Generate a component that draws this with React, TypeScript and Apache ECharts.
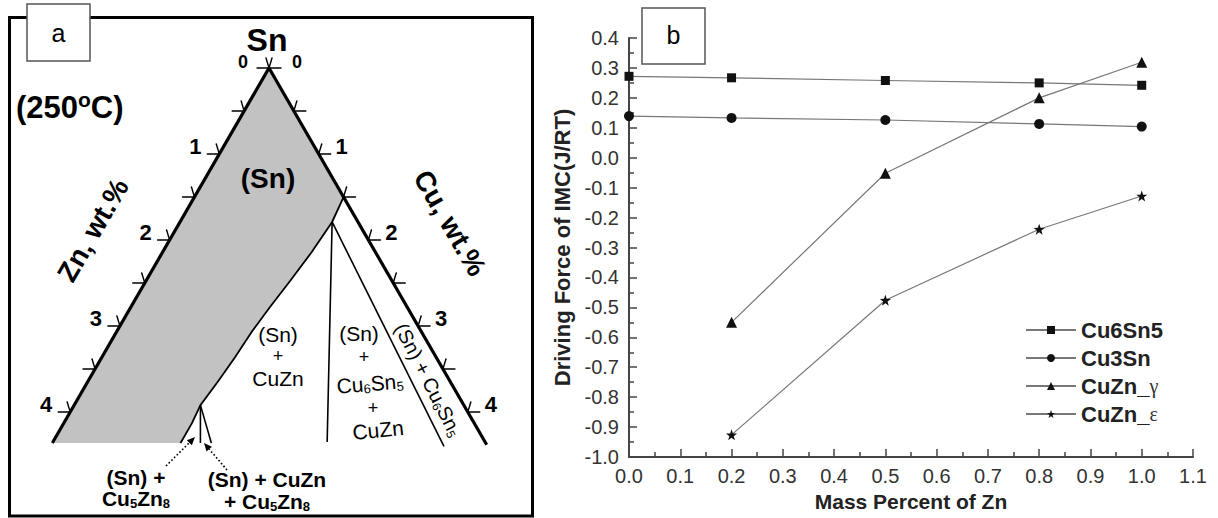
import React, { useEffect, useRef } from "react";
import * as echarts from "echarts";

// ---------------- Panel b : driving force data ----------------
const massPercentZn = [0, 0.2, 0.5, 0.8, 1.0];
const cu6sn5Values = [0.272, 0.267, 0.258, 0.25, 0.242];
const cu3snValues = [0.139, 0.133, 0.126, 0.113, 0.104];
const cuznMassPercent = [0.2, 0.5, 0.8, 1.0];
const cuznGammaValues = [-0.55, -0.052, 0.2, 0.319];
const cuznEpsilonValues = [-0.926, -0.476, -0.239, -0.128];
const seriesNames = ["Cu6Sn5", "Cu3Sn", "CuZn_γ", "CuZn_ε"];

// ---------------- Panel a : Sn-Cu-Zn isothermal section (wt.% [Zn, Cu]) ----------------
const znEdge = [[0, 0], [4.36, 0]];
const cuEdge = [[0, 0], [0, 4.38]];
const snPhaseBoundary = [
  [3.07, 1.29], [2.84, 1.29], [2.65, 1.27], [2.33, 1.31], [2.02, 1.34], [1.71, 1.36],
  [1.38, 1.4], [1.03, 1.45], [0.64, 1.5], [0.26, 1.53], [0, 1.5],
];
const tieLineCuZn = [[0.26, 1.53], [1.59, 2.76]];
const tieLineCu6Sn5 = [[0.26, 1.53], [0.44, 3.96]];
const cu5zn8LineA = [[2.65, 1.27], [2.87, 1.49]];
const cu5zn8LineB = [[2.65, 1.27], [2.76, 1.6]];
const ternaryTicks = [0, 0.5, 1, 1.5, 2, 2.5, 3, 3.5, 4];
const ternaryTickLabels = ["0", "1", "2", "3", "4"];

const FONT = "'Liberation Sans', Arial, Helvetica, sans-serif";
const SERIF = "'Liberation Serif', 'Times New Roman', serif";

function subRich(size: number, weight: string) {
  return {
    m: { fontSize: size, fontWeight: weight, fontFamily: FONT, fill: "#000", verticalAlign: "top", lineHeight: size },
    s: {
      fontSize: Math.round(size * 0.62), fontWeight: weight, fontFamily: FONT, fill: "#000",
      verticalAlign: "top", padding: [Math.round(size * 0.45), 0, 0, 0],
    },
  };
}

function label(text: string, x: number, y: number, size: number, weight = "bold", rotation = 0, rich?: any, z = 10) {
  return {
    type: "text",
    x, y, rotation, z,
    silent: true,
    style: {
      text, fill: "#000", fontSize: size, fontWeight: weight, fontFamily: FONT,
      align: "center", verticalAlign: "middle", rich,
    },
  };
}

function buildOption() {
  const line = (xs: number[], ys: number[]) => xs.map((x, i) => [x, ys[i]]);
  const lineSeries = (name: string, data: number[][], symbol: string, size: number) => ({
    type: "line", name, data, symbol, symbolSize: size, xAxisIndex: 0, yAxisIndex: 0,
    lineStyle: { color: "#777", width: 1.2 },
    itemStyle: { color: "#111" },
    emphasis: { disabled: true },
  });
  const star = "path://M0,-10 L2.35,-3.24 L9.51,-3.09 L3.8,1.24 L5.88,8.09 L0,4 L-5.88,8.09 L-3.8,1.24 L-9.51,-3.09 L-2.35,-3.24 Z";

  const ternary = {
    type: "custom",
    xAxisIndex: 1, yAxisIndex: 1,
    data: [[0, 0]],
    silent: true,
    clip: false,
    renderItem: (_params: any, api: any) => {
      const p = (zc: number[]) => api.coord([zc[1] - zc[0], zc[0] + zc[1]]);
      const seg = (a: number[], b: number[], w: number) => ({
        type: "line", shape: { x1: a[0], y1: a[1], x2: b[0], y2: b[1] },
        style: { stroke: "#000", lineWidth: w, lineCap: "round" },
      });
      const poly = (pts: number[][], w: number) => ({
        type: "polyline", shape: { points: pts.map(p) }, style: { stroke: "#000", lineWidth: w, fill: null },
      });
      const children: any[] = [];
      const region = [znEdge[0], znEdge[1], ...snPhaseBoundary];
      children.push({ type: "polygon", shape: { points: region.map(p) }, style: { fill: "#c2c2c2", stroke: null } });
      children.push(poly(snPhaseBoundary, 1.8));
      children.push(poly(tieLineCuZn, 1.6));
      children.push(poly(tieLineCu6Sn5, 1.6));
      children.push(poly(cu5zn8LineA, 1.6));
      children.push(poly(cu5zn8LineB, 1.6));
      children.push(poly(znEdge, 3.2));
      children.push(poly(cuEdge, 3.2));
      ternaryTicks.forEach((t) => {
        const L = p([t, 0]);
        children.push(seg(L, [L[0] - 12, L[1]], 1.4), seg(L, [L[0] - 3, L[1] - 10], 1.4));
        const R = p([0, t]);
        children.push(seg(R, [R[0] + 12, R[1]], 1.4), seg(R, [R[0] + 3, R[1] - 10], 1.4));
      });
      ternaryTickLabels.forEach((lab, i) => {
        const L = p([i, 0]);
        const R = p([0, i]);
        const size = i === 0 ? 18 : 22;
        const oL = i === 0 ? [-26, -6] : [-24, -8];
        const oR = i === 0 ? [28, -6] : [23, -8];
        children.push({
          type: "text", x: L[0] + oL[0], y: L[1] + oL[1],
          style: { text: lab, fill: "#000", fontSize: size, fontWeight: "bold", fontFamily: FONT, align: "center", verticalAlign: "middle" },
        });
        children.push({
          type: "text", x: R[0] + oR[0], y: R[1] + oR[1],
          style: { text: lab, fill: "#000", fontSize: size, fontWeight: "bold", fontFamily: FONT, align: "center", verticalAlign: "middle" },
        });
      });
      return { type: "group", children };
    },
  };

  const arrowHead = (pts: number[][]) => ({
    type: "polygon", z: 10, silent: true, shape: { points: pts }, style: { fill: "#000" },
  });
  const dotted = (x1: number, y1: number, x2: number, y2: number) => ({
    type: "line", z: 10, silent: true, shape: { x1, y1, x2, y2 },
    style: { stroke: "#000", lineWidth: 1.6, lineDash: [1.6, 2.2] },
  });

  const r21b = subRich(21, "bold");
  const r21 = subRich(21, "normal");
  const r20 = subRich(20, "normal");

  const graphic = [
    { type: "rect", z: 5, silent: true, shape: { x: 9.5, y: 17.5, width: 523, height: 498.5 }, style: { fill: null, stroke: "#000", lineWidth: 3 } },
    { type: "rect", z: 11, silent: true, shape: { x: 27, y: 4, width: 63, height: 57 }, style: { fill: "#fff", stroke: "#555", lineWidth: 1.5 } },
    label("a", 58.5, 33, 25, "normal", 0, undefined, 12),
    { type: "rect", z: 11, silent: true, shape: { x: 642, y: 8, width: 63, height: 56 }, style: { fill: "#fff", stroke: "#555", lineWidth: 1.5 } },
    label("b", 673.5, 35, 25, "normal", 0, undefined, 12),
    label("Sn", 267, 40, 32),
    {
      type: "text", x: 16, y: 106, z: 10, silent: true,
      style: {
        text: "{m|(250}{o|o}{m|C)}", align: "left", verticalAlign: "middle",
        rich: {
          m: { fontSize: 31, fontWeight: "bold", fontFamily: FONT, fill: "#000", verticalAlign: "top", padding: [3, 0, 0, 0] },
          o: { fontSize: 21, fontWeight: "bold", fontFamily: FONT, fill: "#000", verticalAlign: "top" },
        },
      },
    },
    label("(Sn)", 268, 178, 28),
    label("Zn, wt.%", 93, 230, 28, "bold", Math.PI / 3),
    label("Cu, wt.%", 450, 223, 28, "bold", -Math.PI / 3),
    label("(Sn)", 278, 334, 21, "normal"),
    label("+", 278, 356, 18, "normal"),
    label("CuZn", 278, 378, 21, "normal"),
    label("(Sn)", 359, 333, 21, "normal"),
    label("+", 364, 357, 18, "normal"),
    label("{m|Cu}{s|6}{m|Sn}{s|5}", 370, 384, 21, "normal", 0.08, r21),
    label("+", 373, 408, 18, "normal"),
    label("CuZn", 378, 430, 21, "normal", 0.1),
    label("{m|(Sn) + Cu}{s|6}{m|Sn}{s|5}", 428, 380, 20, "normal", -1.1, r20),
    label("(Sn) +", 136, 477, 21),
    label("{m|Cu}{s|5}{m|Zn}{s|8}", 136, 499, 21, "bold", 0, r21b),
    label("(Sn) + CuZn", 267, 479, 21),
    label("{m|+ Cu}{s|5}{m|Zn}{s|8}", 267, 502, 21, "bold", 0, r21b),
    dotted(166, 466, 189.3, 442.7),
    arrowHead([[195, 437], [191.8, 445.2], [186.8, 440.2]]),
    dotted(227, 470, 209.2, 449.1),
    arrowHead([[204, 443], [211.9, 446.8], [206.5, 451.4]]),
  ];

  return {
    animation: false,
    backgroundColor: "#fff",
    textStyle: { fontFamily: FONT },
    grid: [
      { left: 629, right: 25, top: 38, bottom: 61 },
      { left: 20.5, right: 700.5, top: 68, bottom: 63 },
    ],
    xAxis: [
      {
        type: "value", gridIndex: 0, min: 0, max: 1.1, interval: 0.1,
        name: "Mass Percent of Zn", nameLocation: "middle", nameGap: 31,
        nameTextStyle: { fontSize: 21, fontWeight: "bold", color: "#222", fontFamily: FONT },
        axisLine: { onZero: false, lineStyle: { color: "#444", width: 2 } },
        axisTick: { inside: true, length: 8, lineStyle: { color: "#444", width: 1.5 } },
        minorTick: { show: true, splitNumber: 2, length: 5, lineStyle: { color: "#444", width: 1.5 } },
        splitLine: { show: false },
        axisLabel: { fontSize: 20, color: "#333", margin: 9, formatter: (v: number) => v.toFixed(1) },
      },
      { type: "value", gridIndex: 1, min: -5, max: 5, show: false },
    ],
    yAxis: [
      {
        type: "value", gridIndex: 0, min: -1.0, max: 0.4, interval: 0.1,
        name: "Driving Force of IMC(J/RT)", nameLocation: "middle", nameGap: 56, nameRotate: 90,
        nameTextStyle: { fontSize: 22, fontWeight: "bold", color: "#222", fontFamily: FONT },
        axisLine: { show: true, onZero: false, lineStyle: { color: "#444", width: 2 } },
        axisTick: { show: true, inside: true, length: 8, lineStyle: { color: "#444", width: 1.5 } },
        minorTick: { show: true, splitNumber: 2, length: 5, lineStyle: { color: "#444", width: 1.5 } },
        splitLine: { show: false },
        axisLabel: {
          fontSize: 20, color: "#333", margin: 10,
          formatter: (v: number) => (Math.abs(v) < 1e-9 ? 0 : v).toFixed(1),
        },
      },
      { type: "value", gridIndex: 1, min: 0, max: 4.5, inverse: true, show: false },
    ],
    legend: {
      data: seriesNames,
      orient: "vertical",
      left: 1025, top: 319, padding: 0,
      itemWidth: 50, itemHeight: 10, itemGap: 6,
      selectedMode: false,
      formatter: (name: string) => {
        const parts = name.split("_");
        return parts.length > 1 ? `{b|${parts[0]}_}{g|${parts[1]}}` : `{b|${name}}`;
      },
      textStyle: {
        rich: {
          b: { fontSize: 22, fontWeight: "bold", fontFamily: FONT, color: "#222", lineHeight: 22 },
          g: { fontSize: 20, fontFamily: SERIF, color: "#333", lineHeight: 22 },
        },
      },
    },
    graphic,
    series: [
      lineSeries(seriesNames[0], line(massPercentZn, cu6sn5Values), "rect", 9),
      lineSeries(seriesNames[1], line(massPercentZn, cu3snValues), "circle", 10),
      lineSeries(seriesNames[2], line(cuznMassPercent, cuznGammaValues), "triangle", 11),
      lineSeries(seriesNames[3], line(cuznMassPercent, cuznEpsilonValues), star, 11),
      ternary,
    ],
  };
}

export default function App() {
  const ref = useRef<HTMLDivElement>(null);
  useEffect(() => {
    if (!ref.current) return;
    const chart = echarts.init(ref.current, null, { renderer: "svg" });
    chart.setOption(buildOption() as any);
    return () => chart.dispose();
  }, []);
  return (
    <div
      ref={ref}
      style={{ position: "absolute", left: 0, top: 0, width: 1218, height: 518, background: "#fff" }}
    />
  );
}
